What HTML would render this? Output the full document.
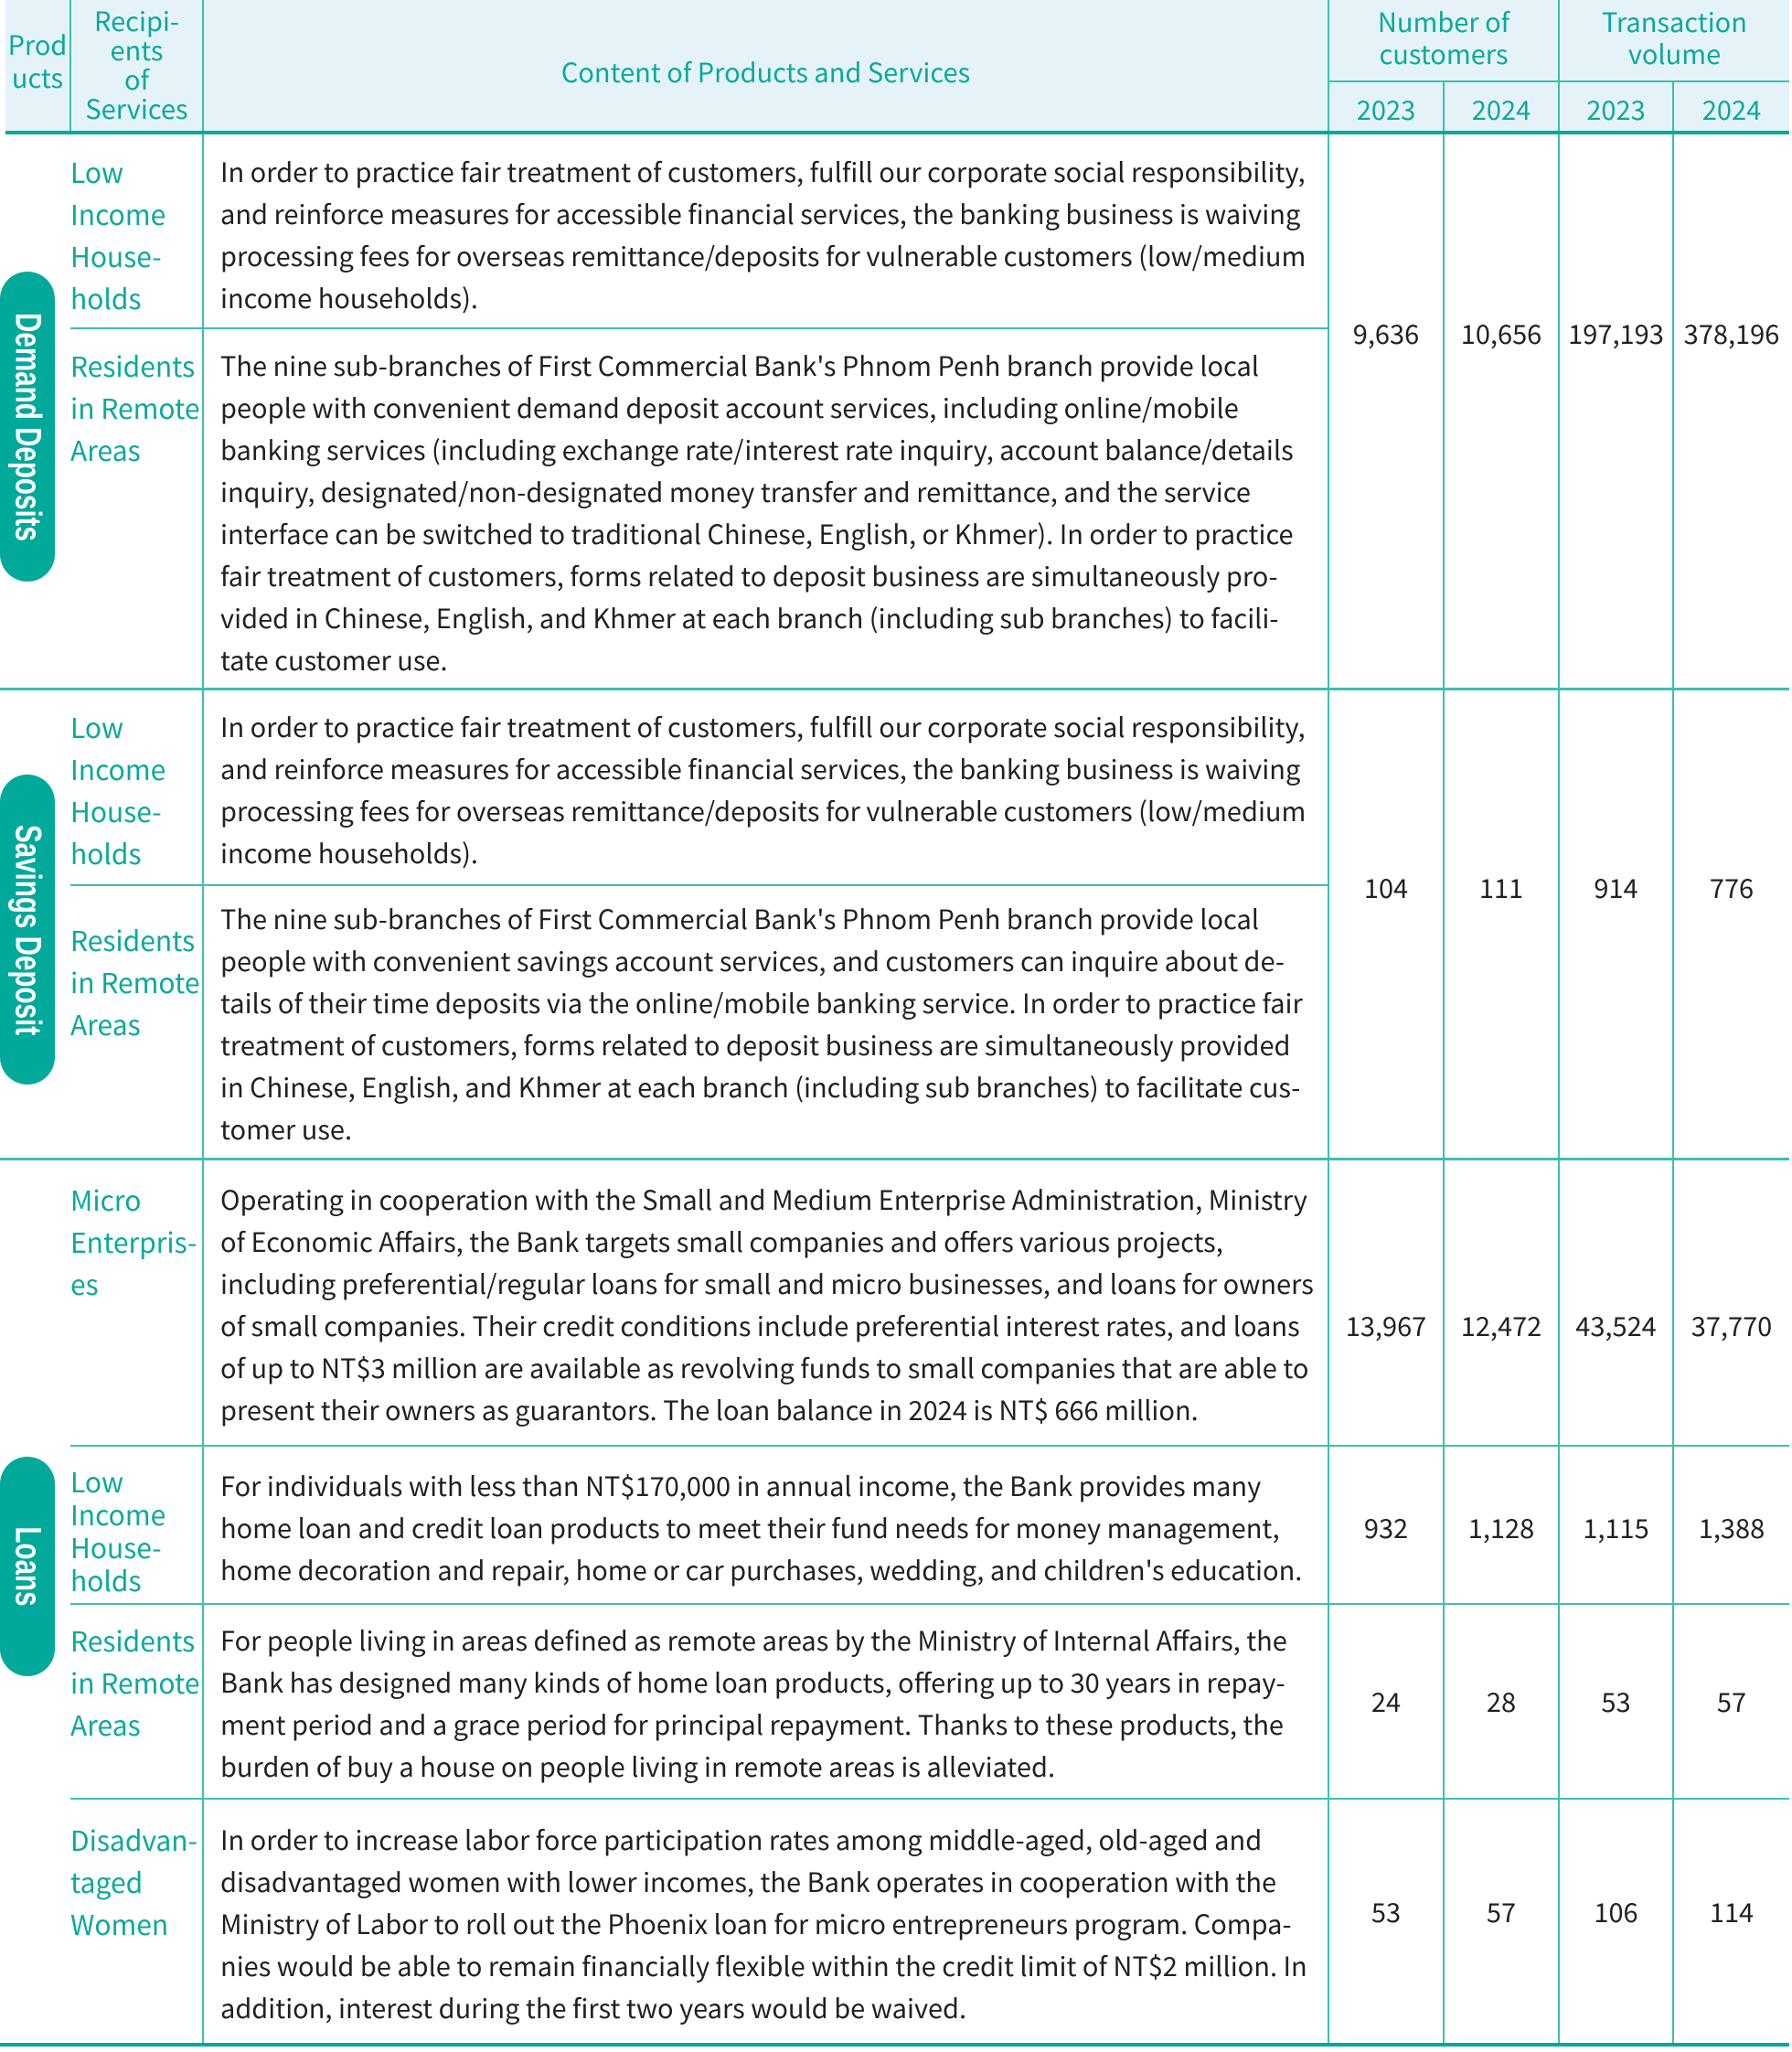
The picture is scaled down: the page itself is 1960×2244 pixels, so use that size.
<!DOCTYPE html>
<html><head><meta charset="utf-8"><style>
html,body{margin:0;padding:0;background:#fff;}
body{width:1960px;height:2244px;position:relative;overflow:hidden;font-family:"Noto Sans CJK TC","Liberation Sans",sans-serif;}
.a{position:absolute;}
.hl{position:absolute;background:#3dbfb0;height:2px;}
.vl{position:absolute;background:#3dbfb0;width:2px;}
.t{position:absolute;font-size:29px;line-height:46px;color:#231f20;white-space:nowrap;}
.r{position:absolute;font-size:30px;line-height:46px;color:#0aa99a;white-space:nowrap;left:77px;}
.h{position:absolute;font-size:29px;line-height:33px;color:#0aa99a;text-align:center;white-space:nowrap;}
.n{position:absolute;font-size:29px;line-height:40px;color:#231f20;text-align:center;}
.pill{position:absolute;left:0;width:60px;background:#00a99a;border-radius:30px;}
.pill span{position:absolute;left:50%;top:50%;transform:translate(-50%,-50%) rotate(90deg) scaleX(0.74);color:#fff;font-family:"Liberation Sans Narrow","Liberation Sans",sans-serif;font-weight:bold;font-size:40px;white-space:nowrap;}
</style></head><body>
<div class="a" style="left:6px;top:0;width:1951px;height:145px;background:#e5f3f9"></div>
<div class="vl" style="left:76px;top:0;height:145px"></div>
<div class="vl" style="left:221px;top:0;height:2236px"></div>
<div class="vl" style="left:1452px;top:0;height:2236px"></div>
<div class="vl" style="left:1578px;top:89px;height:2147px"></div>
<div class="vl" style="left:1704px;top:0;height:2236px"></div>
<div class="vl" style="left:1829px;top:89px;height:2147px"></div>
<div class="hl" style="left:1452px;top:88px;width:505px"></div>
<div class="a" style="left:6px;top:143px;width:1951px;height:4px;background:#00a99a"></div>
<div class="hl" style="left:77px;top:358px;width:1375px"></div>
<div class="a" style="left:0;top:752px;width:1957px;height:3px;background:#3dbfb0"></div>
<div class="hl" style="left:77px;top:967px;width:1375px"></div>
<div class="a" style="left:0;top:1266px;width:1957px;height:3px;background:#3dbfb0"></div>
<div class="hl" style="left:77px;top:1580px;width:1880px"></div>
<div class="hl" style="left:77px;top:1753px;width:1880px"></div>
<div class="hl" style="left:77px;top:1966px;width:1880px"></div>
<div class="a" style="left:0;top:2234px;width:1957px;height:4px;background:#00a99a"></div>
<div class="h" style="left:6px;width:70px;top:30px;line-height:36px">Prod<br>ucts</div>
<div class="h" style="left:78px;width:143px;top:6px;line-height:32px">Recipi-<br>ents<br>of<br>Services</div>
<div class="h" style="left:223px;width:1229px;top:62px">Content of Products and Services</div>
<div class="h" style="left:1454px;width:250px;top:6px;line-height:35px">Number of<br>customers</div>
<div class="h" style="left:1706px;width:251px;top:6px;line-height:35px">Transaction<br>volume</div>
<div class="h" style="left:1454px;width:124px;top:103px">2023</div>
<div class="h" style="left:1580px;width:124px;top:103px">2024</div>
<div class="h" style="left:1706px;width:123px;top:103px">2023</div>
<div class="h" style="left:1831px;width:126px;top:103px">2024</div>
<div class="pill" style="top:297px;height:339px"><span>Demand Deposits</span></div>
<div class="pill" style="top:847px;height:339px"><span>Savings Deposit</span></div>
<div class="pill" style="top:1593px;height:240px"><span>Loans</span></div>
<div class="r" style="top:164px">Low<br>Income<br>House-<br>holds</div>
<div class="r" style="top:376px">Residents<br>in Remote<br>Areas</div>
<div class="r" style="top:771px">Low<br>Income<br>House-<br>holds</div>
<div class="r" style="top:1004px">Residents<br>in Remote<br>Areas</div>
<div class="r" style="top:1288px">Micro<br>Enterpris-<br>es</div>
<div class="r" style="top:1601px;line-height:36px">Low<br>Income<br>House-<br>holds</div>
<div class="r" style="top:1770px">Residents<br>in Remote<br>Areas</div>
<div class="r" style="top:1988px">Disadvan-<br>taged<br>Women</div>
<div class="t" style="left:241px;top:164px">In order to practice fair treatment of customers, fulfill our corporate social responsibility,<br>and reinforce measures for accessible financial services, the banking business is waiving<br>processing fees for overseas remittance/deposits for vulnerable customers (low/medium<br>income households).</div>
<div class="t" style="left:241px;top:376px">The nine sub-branches of First Commercial Bank's Phnom Penh branch provide local<br>people with convenient demand deposit account services, including online/mobile<br>banking services (including exchange rate/interest rate inquiry, account balance/details<br>inquiry, designated/non-designated money transfer and remittance, and the service<br>interface can be switched to traditional Chinese, English, or Khmer). In order to practice<br>fair treatment of customers, forms related to deposit business are simultaneously pro-<br>vided in Chinese, English, and Khmer at each branch (including sub branches) to facili-<br>tate customer use.</div>
<div class="t" style="left:241px;top:771px">In order to practice fair treatment of customers, fulfill our corporate social responsibility,<br>and reinforce measures for accessible financial services, the banking business is waiving<br>processing fees for overseas remittance/deposits for vulnerable customers (low/medium<br>income households).</div>
<div class="t" style="left:241px;top:981px">The nine sub-branches of First Commercial Bank's Phnom Penh branch provide local<br>people with convenient savings account services, and customers can inquire about de-<br>tails of their time deposits via the online/mobile banking service. In order to practice fair<br>treatment of customers, forms related to deposit business are simultaneously provided<br>in Chinese, English, and Khmer at each branch (including sub branches) to facilitate cus-<br>tomer use.</div>
<div class="t" style="left:241px;top:1288px">Operating in cooperation with the Small and Medium Enterprise Administration, Ministry<br>of Economic Affairs, the Bank targets small companies and offers various projects,<br>including preferential/regular loans for small and micro businesses, and loans for owners<br>of small companies. Their credit conditions include preferential interest rates, and loans<br>of up to NT$3 million are available as revolving funds to small companies that are able to<br>present their owners as guarantors. The loan balance in 2024 is NT$ 666 million.</div>
<div class="t" style="left:241px;top:1601px">For individuals with less than NT$170,000 in annual income, the Bank provides many<br>home loan and credit loan products to meet their fund needs for money management,<br>home decoration and repair, home or car purchases, wedding, and children's education.</div>
<div class="t" style="left:241px;top:1770px">For people living in areas defined as remote areas by the Ministry of Internal Affairs, the<br>Bank has designed many kinds of home loan products, offering up to 30 years in repay-<br>ment period and a grace period for principal repayment. Thanks to these products, the<br>burden of buy a house on people living in remote areas is alleviated.</div>
<div class="t" style="left:241px;top:1988px">In order to increase labor force participation rates among middle-aged, old-aged and<br>disadvantaged women with lower incomes, the Bank operates in cooperation with the<br>Ministry of Labor to roll out the Phoenix loan for micro entrepreneurs program. Compa-<br>nies would be able to remain financially flexible within the credit limit of NT$2 million. In<br>addition, interest during the first two years would be waived.</div>
<div class="n" style="left:1454px;width:124px;top:344px">9,636</div>
<div class="n" style="left:1580px;width:124px;top:344px">10,656</div>
<div class="n" style="left:1706px;width:123px;top:344px">197,193</div>
<div class="n" style="left:1831px;width:126px;top:344px">378,196</div>
<div class="n" style="left:1454px;width:124px;top:950px">104</div>
<div class="n" style="left:1580px;width:124px;top:950px">111</div>
<div class="n" style="left:1706px;width:123px;top:950px">914</div>
<div class="n" style="left:1831px;width:126px;top:950px">776</div>
<div class="n" style="left:1454px;width:124px;top:1429px">13,967</div>
<div class="n" style="left:1580px;width:124px;top:1429px">12,472</div>
<div class="n" style="left:1706px;width:123px;top:1429px">43,524</div>
<div class="n" style="left:1831px;width:126px;top:1429px">37,770</div>
<div class="n" style="left:1454px;width:124px;top:1650px">932</div>
<div class="n" style="left:1580px;width:124px;top:1650px">1,128</div>
<div class="n" style="left:1706px;width:123px;top:1650px">1,115</div>
<div class="n" style="left:1831px;width:126px;top:1650px">1,388</div>
<div class="n" style="left:1454px;width:124px;top:1840px">24</div>
<div class="n" style="left:1580px;width:124px;top:1840px">28</div>
<div class="n" style="left:1706px;width:123px;top:1840px">53</div>
<div class="n" style="left:1831px;width:126px;top:1840px">57</div>
<div class="n" style="left:1454px;width:124px;top:2070px">53</div>
<div class="n" style="left:1580px;width:124px;top:2070px">57</div>
<div class="n" style="left:1706px;width:123px;top:2070px">106</div>
<div class="n" style="left:1831px;width:126px;top:2070px">114</div>
</body></html>
